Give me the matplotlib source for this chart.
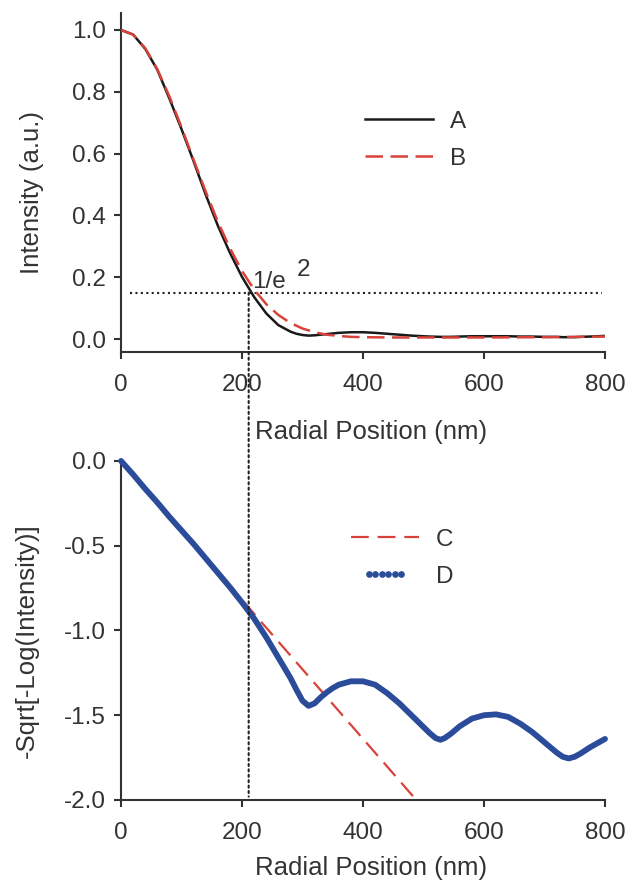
import matplotlib
matplotlib.use('Agg')
import matplotlib.pyplot as plt
from matplotlib.lines import Line2D
from matplotlib.legend_handler import HandlerLine2D
from matplotlib.patches import ConnectionPatch

# radial positions (nm) for the measured profile A and its transform D
r_nm = [0, 20, 40, 60, 80, 100, 120, 140, 160, 180, 200,
        220, 240, 260, 280, 290, 300, 310, 320, 330, 340, 350, 360,
        380, 400, 420, 440, 460, 480, 500,
        510, 520, 528, 535, 545, 560,
        580, 600, 620, 640, 660, 680, 700, 720,
        730, 740, 750, 760, 775, 800]
prof_a = [1.0, 0.985, 0.939, 0.871, 0.778, 0.679, 0.575, 0.467, 0.367, 0.279, 0.201,
          0.136, 0.083, 0.045, 0.024, 0.017, 0.013, 0.011, 0.012, 0.014, 0.016, 0.018, 0.020,
          0.022, 0.022, 0.020, 0.017, 0.014, 0.011, 0.009,
          0.008, 0.0075, 0.007, 0.007, 0.007, 0.008,
          0.009, 0.009, 0.009, 0.009, 0.008, 0.008, 0.007, 0.007,
          0.006, 0.006, 0.006, 0.007, 0.008, 0.010]
sqrt_d = [0.0, -0.08, -0.165, -0.245, -0.33, -0.41, -0.49, -0.575, -0.66, -0.745, -0.835,
          -0.93, -1.04, -1.16, -1.28, -1.35, -1.415, -1.445, -1.43, -1.395, -1.365, -1.34, -1.32,
          -1.30, -1.30, -1.32, -1.37, -1.43, -1.50, -1.57,
          -1.605, -1.635, -1.645, -1.635, -1.61, -1.565,
          -1.52, -1.50, -1.495, -1.51, -1.55, -1.60, -1.66, -1.72,
          -1.745, -1.755, -1.745, -1.725, -1.69, -1.64]

# gaussian fit B
r_b = [0, 20, 40, 60, 80, 100, 120, 140, 160, 180, 200, 220, 240, 260, 280, 300,
       320, 340, 360, 380, 400, 450, 500, 600, 700, 800]
prof_b = [1.0, 0.985, 0.941, 0.873, 0.785, 0.685, 0.580, 0.477, 0.380, 0.294, 0.220,
          0.160, 0.113, 0.078, 0.052, 0.034, 0.022, 0.014, 0.010, 0.007, 0.006,
          0.005, 0.005, 0.005, 0.006, 0.008]

# linear fit C
r_c = [0, 488]
line_c = [0.0, -2.0]

# 1/e^2 guide lines
guide_x = 211
guide_y = 0.15
hline_x = [15, 795]
vline_bottom = -1.98

txt = '#333333'
fs = 17.5
fs_lab = 18.5
plt.rcParams['font.family'] = ['Liberation Sans', 'DejaVu Sans']
plt.rcParams['axes.unicode_minus'] = False

fig = plt.figure(figsize=(6.31, 8.82), dpi=100)
ax1 = fig.add_axes([0.1918, 0.6009, 0.767, 0.3844])
ax2 = fig.add_axes([0.1918, 0.093, 0.767, 0.3844])

for ax in (ax1, ax2):
    ax.spines['top'].set_visible(False)
    ax.spines['right'].set_visible(False)
    for s in ('left', 'bottom'):
        ax.spines[s].set_linewidth(1.5)
        ax.spines[s].set_color(txt)
    ax.tick_params(direction='out', length=5, width=1.5, color=txt,
                   labelsize=fs, labelcolor=txt)
    ax.tick_params(axis='x', pad=11)
    ax.tick_params(axis='y', pad=6)
    ax.set_xlim(0, 800)
    ax.set_xticks([0, 200, 400, 600, 800])

# top panel
ax1.set_ylim(-0.042, 1.055)
ax1.set_yticks([0.0, 0.2, 0.4, 0.6, 0.8, 1.0])
ax1.set_yticklabels(['0.0', '0.2', '0.4', '0.6', '0.8', '1.0'])
ax1.plot(r_nm, prof_a, color='#1a1a1a', lw=1.8, label='A', zorder=3)
ax1.plot(r_b, prof_b, color='#d9423a', lw=1.8, dashes=(7, 3), label='B', zorder=4)
ax1.plot(hline_x, [guide_y, guide_y], color='#222222', lw=1.5, ls=(0, (1, 1.6)))
ax1.text(216, 0.165, '1/e', fontsize=fs, color=txt)
ax1.text(291, 0.205, '2', fontsize=fs, color=txt)
ax1.set_ylabel('Intensity (a.u.)', fontsize=fs_lab, color=txt)
ax1.yaxis.set_label_coords(-0.16, 0.47)
ax1.set_xlabel('Radial Position (nm)', fontsize=fs_lab, color=txt)
ax1.xaxis.set_label_coords(0.517, -0.2)
ax1.legend(loc='upper left', bbox_to_anchor=(0.504, 0.712), frameon=False,
           fontsize=fs, handlelength=2.8, handletextpad=0.7, labelspacing=0.62,
           borderpad=0, borderaxespad=0, labelcolor=txt)

# bottom panel
ax2.set_ylim(-2.0, 0.0)
ax2.set_yticks([0.0, -0.5, -1.0, -1.5, -2.0])
ax2.set_yticklabels(['0.0', '-0.5', '-1.0', '-1.5', '-2.0'])
ax2.plot(r_c, line_c, color='#d9423a', lw=1.6, dashes=(8, 4), zorder=2)
ax2.plot(r_nm, sqrt_d, color='#2b4c9a', lw=4.2, solid_capstyle='round',
         solid_joinstyle='round', clip_on=False, zorder=3)
ax2.set_ylabel('-Sqrt[-Log(Intensity)]', fontsize=fs_lab, color=txt)
ax2.yaxis.set_label_coords(-0.17, 0.47)
ax2.set_xlabel('Radial Position (nm)', fontsize=fs_lab, color=txt)
ax2.xaxis.set_label_coords(0.517, -0.165)
h_c = Line2D([], [], color='#d9423a', lw=1.6, dashes=(8, 4))
h_d = Line2D([], [], color='#2b4c9a', ls='', marker='o', markersize=3.8)
ax2.legend([h_c, h_d], ['C', 'D'], loc='upper left', bbox_to_anchor=(0.475, 0.80),
           frameon=False, fontsize=fs, handlelength=2.8, handletextpad=0.7,
           labelspacing=0.62, borderpad=0, borderaxespad=0, labelcolor=txt,
           handler_map={h_d: HandlerLine2D(numpoints=6, marker_pad=0.73)})

# vertical guide through both panels
con = ConnectionPatch(xyA=(guide_x, guide_y), coordsA=ax1.transData,
                      xyB=(guide_x, vline_bottom), coordsB=ax2.transData,
                      color='#222222', lw=1.5, ls=(0, (1, 1.6)), zorder=5)
fig.add_artist(con)

fig.savefig('out.png', dpi=100, facecolor='white')
